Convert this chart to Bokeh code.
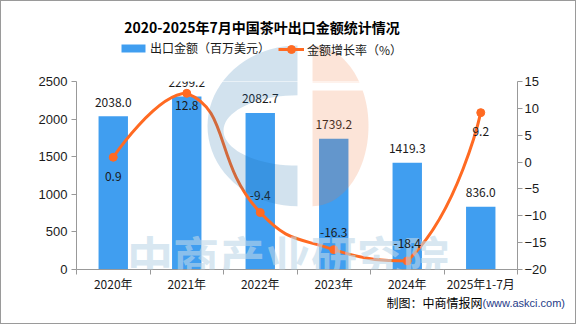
import math
import numpy as np
from bokeh.plotting import figure
from bokeh.layouts import column
from bokeh.models import (Range1d, LinearAxis, FixedTicker, ColumnDataSource, LabelSet, Label,
                          Legend, LegendItem, PolyAnnotation)
from bokeh.core.properties import value
from bokeh.embed import file_html
from bokeh.resources import INLINE

# ---------------- data ----------------
categories = ["2020年", "2021年", "2022年", "2023年", "2024年", "2025年1-7月"]
export_value = [2038.0, 2299.2, 2082.7, 1739.2, 1419.3, 836.0]      # 百万美元
growth_rate = [0.9, 12.8, -9.4, -16.3, -18.4, 9.2]                 # %
left_ticks = [0, 500, 1000, 1500, 2000, 2500]
right_ticks = [-20, -15, -10, -5, 0, 5, 10, 15]

title_text = "2020-2025年7月中国茶叶出口金额统计情况"
bar_name = "出口金额（百万美元）"
line_name = "金额增长率（%）"
footer_main = "制图：中商情报网"
footer_url = "(www.askci.com)"
watermark = "中商产业研究院"

# ---------------- style ----------------
BLUE = "#409ef0"
ORANGE = "#ff6a22"
AXIS = "#999999"
TXT = "#1a1a1a"
CJK = "Noto Sans CJK SC"
growth_label_offset = [-19, -12, 17, 17, 17, -19]

W = 574
TOP_H, MAIN_H, BOT_H = 80, 223, 29
OVER = 10                             # main chart's top border overlaps the header
ML, MR, MT, MB = 75, 58, 10, 23
FRAME_L = ML + 1                      # page x of frame left
FRAME_T = TOP_H + 1 - OVER + MT       # page y of frame top (81)
FRAME_W = W - ML - MR                 # 441
FRAME_H = MAIN_H - MT - MB            # 190
FRAME_B = FRAME_T + FRAME_H           # 271

n = len(categories)
xs = list(range(n))
XMIN, XMAX = -0.5, n - 0.5
YMAX = left_ticks[-1]
GMIN, GMAX = right_ticks[0], right_ticks[-1]


def dx(px):
    return XMIN + (px - FRAME_L) / FRAME_W * (XMAX - XMIN)


def dy(py):
    return (FRAME_B - py) / FRAME_H * YMAX


def bare(fig):
    fig.xgrid.visible = False
    fig.ygrid.visible = False
    fig.outline_line_color = None
    fig.border_fill_color = "white"
    fig.background_fill_color = "white"
    try:
        fig.frame_align = False
    except Exception:
        pass


# ================= main chart =================
p = figure(width=W, height=MAIN_H, x_range=Range1d(XMIN, XMAX), y_range=Range1d(0, YMAX),
           output_backend="svg", toolbar_location=None,
           min_border_left=ML, min_border_right=MR, min_border_top=MT, min_border_bottom=MB)
p.extra_y_ranges = {"growth": Range1d(GMIN, GMAX)}
p.xgrid.visible = False
p.ygrid.visible = False
p.outline_line_color = None
p.background_fill_color = "white"
p.border_fill_alpha = 0
p.styles = {"margin-top": f"-{OVER}px"}
try:
    p.frame_align = False
except Exception:
    pass

xa = p.xaxis[0]
xa.ticker = FixedTicker(ticks=xs, minor_ticks=[i - 0.5 for i in range(n + 1)])
xa.major_label_overrides = {i: c for i, c in enumerate(categories)}
xa.major_tick_out = 0
xa.major_tick_in = 0
xa.minor_tick_out = 5
xa.minor_tick_in = 0
xa.minor_tick_line_color = AXIS
xa.axis_line_color = AXIS
xa.major_label_standoff = 0
xa.major_label_text_font = CJK
xa.major_label_text_font_size = "12px"
xa.major_label_text_color = TXT

ya = p.yaxis[0]
ya.ticker = FixedTicker(ticks=left_ticks)
ya.major_tick_out = 5
ya.major_tick_in = 0
ya.minor_tick_line_color = None
ya.axis_line_color = AXIS
ya.major_tick_line_color = AXIS
ya.major_label_standoff = 4
ya.major_label_text_font = "Liberation Sans"
ya.major_label_text_font_size = "13px"
ya.major_label_text_color = TXT

ra = LinearAxis(y_range_name="growth", ticker=FixedTicker(ticks=right_ticks))
ra.major_tick_out = 5
ra.major_tick_in = 0
ra.minor_tick_line_color = None
ra.axis_line_color = AXIS
ra.major_tick_line_color = AXIS
ra.major_label_standoff = 2
ra.major_label_text_font = "Liberation Sans"
ra.major_label_text_font_size = "13px"
ra.major_label_text_color = TXT
p.add_layout(ra, "right")

bar_src = ColumnDataSource(dict(x=xs, top=export_value,
                                label=[f"{v:.1f}" for v in export_value]))
bars = p.vbar(x="x", top="top", width=0.4, source=bar_src, fill_color=BLUE, line_color=None)

# smooth line: ECharts-style bezier control points computed from the data points
XS = FRAME_W / (XMAX - XMIN)
YS = FRAME_H / (GMAX - GMIN)
P = [(i * XS, g * YS) for i, g in zip(xs, growth_rate)]
bx0, bx1 = min(a for a, b in P), max(a for a, b in P)
by0, by1 = min(b for a, b in P), max(b for a, b in P)


def clamp(pt):
    return (min(max(pt[0], bx0), bx1), min(max(pt[1], by0), by1))


smooth = 0.5
seg = dict(x0=[], y0=[], x1=[], y1=[], cx0=[], cy0=[], cx1=[], cy1=[])
cp0 = P[0]
for i in range(1, n):
    x, y = P[i]
    if i == n - 1:
        cp1 = P[i]
        ncp0 = None
    else:
        px_, py_ = P[i - 1]
        nx, ny = P[i + 1]
        vx, vy = nx - px_, ny - py_
        lp = math.hypot(x - px_, y - py_)
        ln = math.hypot(nx - x, ny - y)
        r = ln / (ln + lp)
        cp1 = (x - vx * smooth * (1 - r), y - vy * smooth * (1 - r))
        ncp0 = (x + vx * smooth * r, y + vy * smooth * r)
    c0, c1 = clamp(cp0), clamp(cp1)
    a = P[i - 1]
    seg["x0"].append(a[0] / XS); seg["y0"].append(a[1] / YS)
    seg["x1"].append(x / XS); seg["y1"].append(y / YS)
    seg["cx0"].append(c0[0] / XS); seg["cy0"].append(c0[1] / YS)
    seg["cx1"].append(c1[0] / XS); seg["cy1"].append(c1[1] / YS)
    cp0 = ncp0

p.bezier(x0="x0", y0="y0", x1="x1", y1="y1", cx0="cx0", cy0="cy0", cx1="cx1", cy1="cy1",
         source=ColumnDataSource(seg), line_color=ORANGE, line_width=3, y_range_name="growth")
line_src = ColumnDataSource(dict(x=xs, y=growth_rate, label=[f"{v:.1f}" for v in growth_rate],
                                 off=growth_label_offset))
p.scatter(x="x", y="y", source=line_src, size=8, fill_color=ORANGE, line_color=ORANGE,
          y_range_name="growth")

p.add_layout(Label(x=dx(287.5), y=dy(256), text=watermark, text_align="center",
                   text_baseline="middle", text_font=CJK, text_font_style="bold",
                   text_font_size="46px", text_color="#bed7e8", text_alpha=0.6))

p.add_layout(LabelSet(x="x", y="top", text="label", source=bar_src, y_offset=14,
                      text_align="center", text_baseline="middle", text_font=value(CJK),
                      text_font_size="12px", text_color=TXT))
p.add_layout(LabelSet(x="x", y="y", text="label", source=line_src, y_offset="off",
                      y_range_name="growth", text_align="center", text_baseline="middle",
                      text_font=value(CJK), text_font_size="12px", text_color=TXT))


# logo watermark (page-pixel geometry)
def half_ellipse(cx, cy, rx, ry, side, t_from, t_to, steps=40):
    pts = []
    for k in range(steps + 1):
        t = t_from + (t_to - t_from) * k / steps
        pts.append((cx + side * rx * math.sin(t), cy - ry * math.cos(t)))
    return pts


blue_poly = half_ellipse(297, 126, 90, 81, -1, 0, math.pi) + \
    half_ellipse(297, 130.5, 74, 35.5, -1, math.pi, 0)
ocx, ocy, orx, ory = 312, 126, 56, 81
t1 = math.acos((ocy - 82) / ory)
t2 = math.acos((ocy - 90) / ory)
top_piece = half_ellipse(ocx, ocy, orx, ory, 1, 0, t1, 20) + [(ocx, 82)]
bot_piece = [(ocx, 90)] + half_ellipse(ocx, ocy, orx, ory, 1, t2, math.pi, 40)
logo = [(blue_poly, "#1e6eaa"), (top_piece, "#f0783c"), (bot_piece, "#f0783c")]

for poly, col in logo:
    p.add_layout(PolyAnnotation(xs=[dx(a) for a, b in poly], ys=[dy(b) for a, b in poly],
                                fill_color=col, fill_alpha=0.2, line_color=None))

# ================= header: title + legend =================
top = figure(width=W, height=TOP_H, x_range=Range1d(0, W), y_range=Range1d(0, TOP_H),
             output_backend="svg", toolbar_location=None,
             x_axis_location=None, y_axis_location=None, min_border=0)
bare(top)


def tx(px):
    return px - 1


def ty(py):
    return TOP_H + 1 - py


for poly, col in logo:
    top.add_layout(PolyAnnotation(xs=[tx(a) for a, b in poly], ys=[ty(b) for a, b in poly],
                                  fill_color=col, fill_alpha=0.2, line_color=None))

top.add_layout(Label(x=tx(261.5), y=ty(26), text=title_text, text_align="center",
                     text_baseline="middle", text_font=CJK, text_font_style="bold",
                     text_font_size="14px", text_color="#000000"))

# legend proxies (no visible marks of their own)
nan1 = np.array([np.nan])
lg_bar = top.vbar(x=nan1, top=nan1, width=0.4, fill_color=BLUE, line_color=None)
lg_line = top.line(x=nan1, y=nan1, line_color=ORANGE, line_width=3)
lg_dot = top.scatter(x=nan1, y=nan1, size=8, fill_color=ORANGE, line_color=ORANGE)

leg1 = Legend(items=[LegendItem(label=bar_name, renderers=[lg_bar])],
              location=(tx(118), ty(56)), orientation="horizontal",
              glyph_width=30, glyph_height=10, label_height=10, label_standoff=2,
              padding=0, margin=0, border_line_color=None, background_fill_alpha=0,
              label_text_font=CJK, label_text_font_size="12px", label_text_color=TXT)
leg2 = Legend(items=[LegendItem(label=line_name, renderers=[lg_line, lg_dot])],
              location=(tx(278), ty(59)), orientation="horizontal",
              glyph_width=26, glyph_height=20, label_height=20, label_standoff=3,
              padding=0, margin=0, border_line_color=None, background_fill_alpha=0,
              label_text_font=CJK, label_text_font_size="12px", label_text_color=TXT)
top.add_layout(leg1)
top.add_layout(leg2)

# ================= footer =================
bot = figure(width=W, height=BOT_H, x_range=Range1d(0, W), y_range=Range1d(0, BOT_H),
             output_backend="svg", toolbar_location=None,
             x_axis_location=None, y_axis_location=None, min_border=0)
bare(bot)
FOOT_TOP = TOP_H + MAIN_H - OVER + 1


def fy(py):
    return BOT_H - (py - FOOT_TOP)


bot.add_layout(Label(x=tx(482), y=fy(302), text=footer_main, text_align="right",
                     text_baseline="middle", text_font=CJK, text_font_size="12px",
                     text_color="#000000"))
bot.add_layout(Label(x=tx(482), y=fy(302), text=footer_url, text_align="left",
                     text_baseline="middle", text_font="Liberation Sans", text_font_size="11px",
                     text_color="#1f3c88"))

lay = column(top, p, bot, spacing=0)
lay.styles = {"border": "1px solid #9a9a9a", "background-color": "white"}

open("out.html", "w").write(file_html(lay, INLINE))
